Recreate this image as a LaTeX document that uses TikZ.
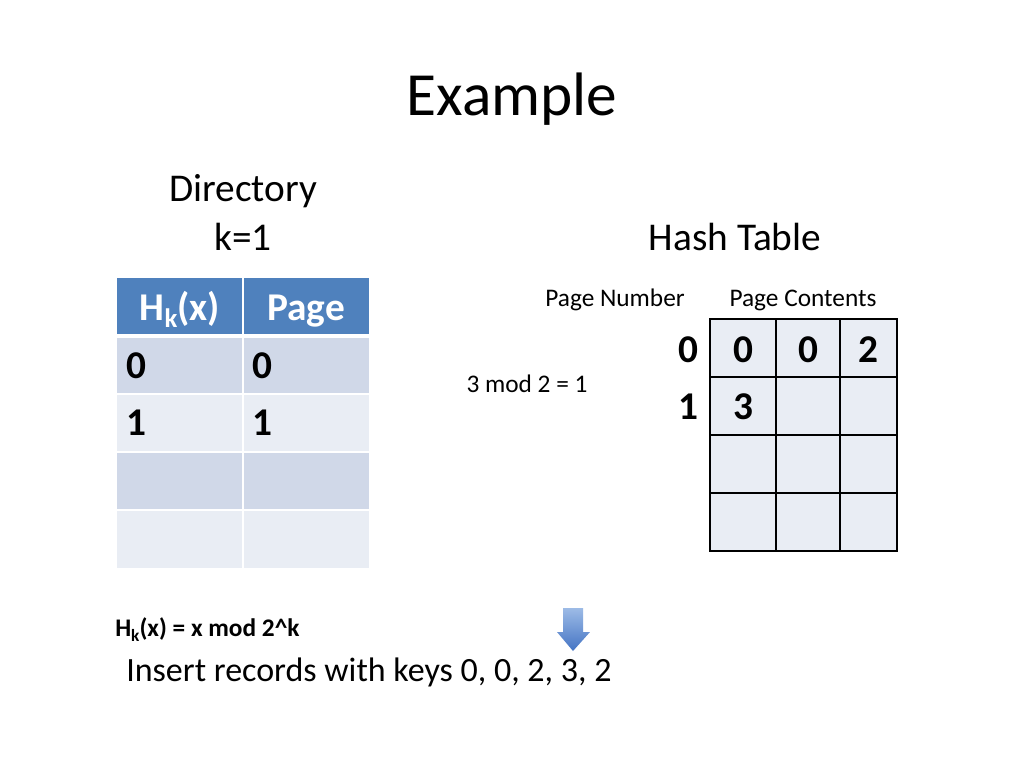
\documentclass[tikz,border=0pt]{standalone}
\usepackage{fontspec}
\setmainfont{Carlito}
\definecolor{hdr}{HTML}{4F81BD}
\definecolor{rowA}{HTML}{D0D8E8}
\definecolor{rowB}{HTML}{E9EDF4}
\definecolor{cellfill}{HTML}{E9EDF4}
\definecolor{arrtop}{HTML}{9DBBE6}
\definecolor{arrbot}{HTML}{4474C4}
\newcommand\mysubk[1]{\raisebox{-0.2em}{\scalebox{0.68}{#1}}}
\tikzset{
  txt/.style={inner sep=0pt, anchor=base},
  big/.style={font=\fontsize{29.5}{34}\selectfont},
  bigb/.style={font=\fontsize{29.5}{34}\selectfont\bfseries},
  small/.style={font=\fontsize{19}{23}\selectfont},
  smallb/.style={font=\fontsize{19}{23}\selectfont\bfseries},
  gridline/.style={line width=1.2pt, black},
  sep/.style={white, line width=1.5pt}
}
\begin{document}
\begin{tikzpicture}[x=0.75pt,y=-0.75pt]
\useasboundingbox[fill=white] (0,0) rectangle (1024,768);

% title
\node[txt, font=\fontsize{46}{52}\selectfont] (title) at (512,115) {Example};

% headings
\node[txt, big] (dir) at (243,201) {Directory};
\node[txt, big] (kval) at (243,250) {k=1};
\node[txt, big] (hash) at (735,250) {Hash Table};

% directory table
\fill[hdr] (117,278) rectangle (369,336);
\fill[rowA] (117,336) rectangle (369,394);
\fill[rowB] (117,394) rectangle (369,452);
\fill[rowA] (117,452) rectangle (369,510);
\fill[rowB] (117,510) rectangle (369,568);
\draw[white, line width=2.5pt] (117,336) -- (369,336);
\draw[sep] (117,394) -- (369,394);
\draw[sep] (117,452) -- (369,452);
\draw[sep] (117,510) -- (369,510);
\draw[sep] (243,278) -- (243,568);

\node[txt, bigb, text=white] (h1) at (180,320) {H\mysubk{k}(x)};
\node[txt, bigb, text=white] (h2) at (306,320) {Page};
\node[txt, bigb, anchor=base west] (r1a) at (126,378) {0};
\node[txt, bigb, anchor=base west] (r1b) at (252,378) {0};
\node[txt, bigb, anchor=base west] (r2a) at (126,435) {1};
\node[txt, bigb, anchor=base west] (r2b) at (252,435) {1};

% hash table labels
\node[txt, small] (pnum) at (615,306) {Page Number};
\node[txt, small] (pcont) at (803,306) {Page Contents};
\node[txt, small] (mod) at (527,392) {3 mod 2 = 1};

% hash grid
\fill[cellfill] (710,319) rectangle (897,551);
\draw[gridline] (710,319) rectangle (897,551);
\draw[gridline] (776,319) -- (776,551);
\draw[gridline] (840,319) -- (840,551);
\draw[gridline] (710,377) -- (897,377);
\draw[gridline] (710,435) -- (897,435);
\draw[gridline] (710,493) -- (897,493);

\node[txt, bigb] (p0) at (688,362) {0};
\node[txt, bigb] (p1) at (688,419) {1};
\node[txt, bigb] (c00) at (743,362) {0};
\node[txt, bigb] (c01) at (808,362) {0};
\node[txt, bigb] (c02) at (868,362) {2};
\node[txt, bigb] (c10) at (743,419) {3};

% bottom text
\node[txt, smallb, anchor=base west] (hfun) at (115,636) {H\mysubk{k}(x) = x mod 2\^{}k};
\node[txt, font=\fontsize{25.5}{30}\selectfont, anchor=base west] (ins) at (126,681) {Insert records with keys 0, 0, 2, 3, 2};

% arrow
\shade[top color=arrtop, bottom color=arrbot]
  (563,608) -- (583,608) -- (583,632) -- (590,632) -- (573,651) -- (557,632) -- (563,632) -- cycle;
\end{tikzpicture}
\end{document}
